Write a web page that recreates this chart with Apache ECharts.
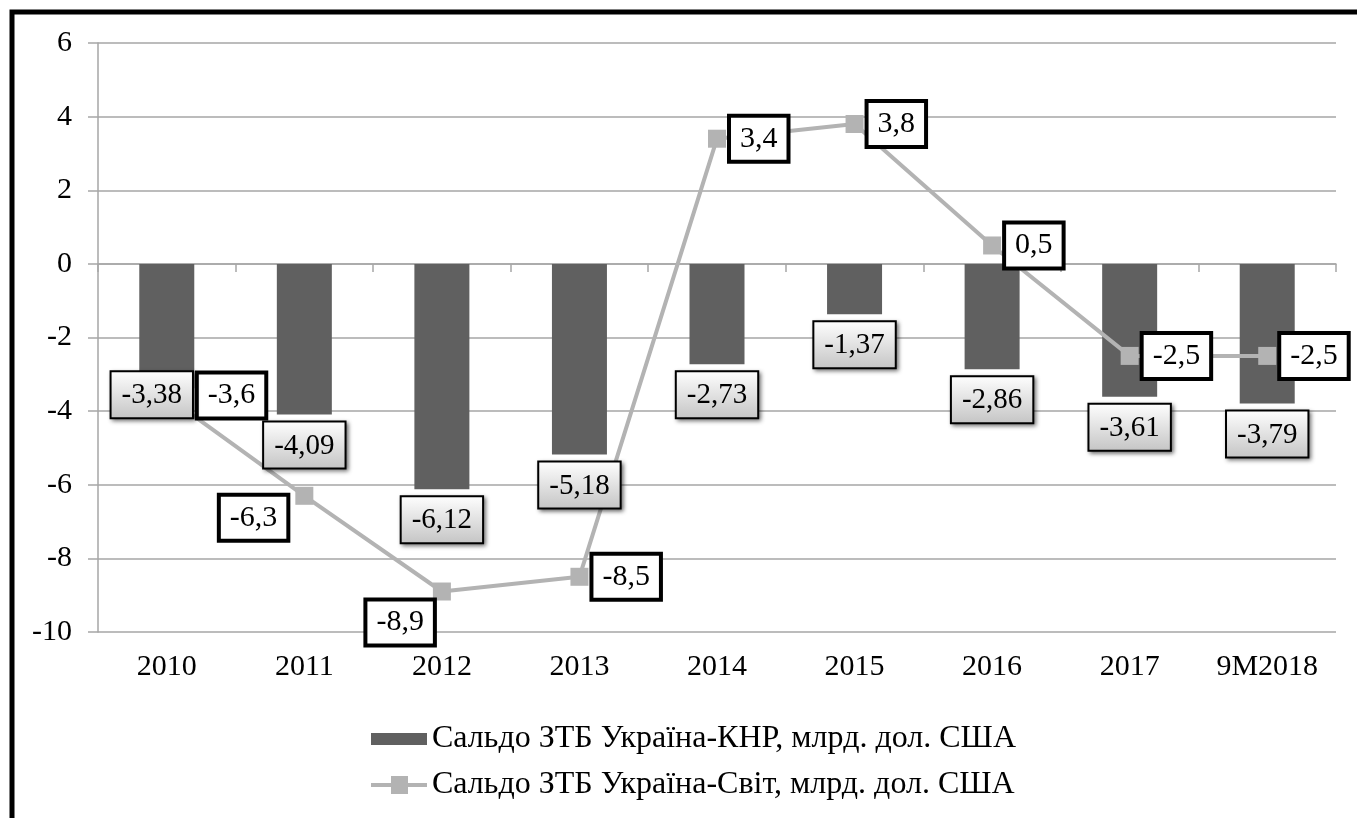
<!DOCTYPE html>
<html>
<head>
<meta charset="utf-8">
<script src="https://cdn.jsdelivr.net/npm/echarts@6/dist/echarts.min.js"></script>
<style>
  html, body { margin: 0; padding: 0; background: #fff; }
  #chart { width: 1357px; height: 818px; }
</style>
</head>
<body>
<div id="chart"></div>
<script>
const categories = ['2010', '2011', '2012', '2013', '2014', '2015', '2016', '2017', '9M2018'];
const chinaBalance = [-3.38, -4.09, -6.12, -5.18, -2.73, -1.37, -2.86, -3.61, -3.79];
const worldBalance = [-3.6, -6.3, -8.9, -8.5, 3.4, 3.8, 0.5, -2.5, -2.5];
const seriesNames = ['Сальдо ЗТБ Україна-КНР, млрд. дол. США', 'Сальдо ЗТБ Україна-Світ, млрд. дол. США'];
const yTicks = { min: -10, max: 6, interval: 2 };

const FONT = '"Liberation Serif", "Times New Roman", serif';
const fmt = v => String(v).replace('.', ',');

// label placement tweaks (layout only)
const barLabelTweaks = { 0: { position: 'bottom', offset: [-15, -24] } };
const lineLabelTweaks = {
  0: { position: 'right', offset: [18, -1] },
  1: { position: 'left', offset: [-4, 22] },
  2: { position: 'left', offset: [5, 31] }
};

const barLabelStyle = {
  show: true,
  position: 'bottom',
  distance: 8,
  formatter: p => fmt(p.value),
  fontFamily: FONT,
  fontSize: 29,
  color: '#000',
  backgroundColor: {
    type: 'linear', x: 0, y: 0, x2: 0, y2: 1,
    colorStops: [{ offset: 0, color: '#ffffff' }, { offset: 1, color: '#c4c4c4' }]
  },
  borderColor: '#000',
  borderWidth: 2,
  padding: [9, 10, 7, 10],
  shadowColor: 'rgba(0,0,0,0.45)',
  shadowBlur: 4,
  shadowOffsetX: 2,
  shadowOffsetY: 2
};

const lineLabelStyle = {
  show: true,
  position: 'right',
  distance: 5,
  formatter: p => fmt(p.value),
  fontFamily: FONT,
  fontSize: 30,
  color: '#000',
  backgroundColor: '#fff',
  borderColor: '#000',
  borderWidth: 4,
  padding: [7, 9, 5, 9]
};

const overlayData = chinaBalance.map((v, i) => barLabelTweaks[i]
  ? { value: v, label: Object.assign({}, barLabelTweaks[i]) } : v);
const lineData = worldBalance.map((v, i) => lineLabelTweaks[i]
  ? { value: v, label: Object.assign({}, lineLabelTweaks[i]) } : v);

const chart = echarts.init(document.getElementById('chart'), null, { renderer: 'canvas' });
chart.setOption({
  animation: false,
  backgroundColor: '#fff',
  graphic: [{
    type: 'rect',
    shape: { x: 12, y: 12, width: 1500, height: 1000 },
    style: { fill: 'none', stroke: '#000', lineWidth: 5 },
    z: 100, silent: true
  }],
  grid: { left: 98, right: 21, top: 43, bottom: 186 },
  legend: {
    data: [
      { name: seriesNames[0], icon: 'path://M0,0 H56 V12 H0 Z', itemStyle: { color: '#606060' } },
      { name: seriesNames[1], icon: 'path://M0,7 H20 V0 H37 V7 H56 V11 H37 V18 H20 V11 H0 Z', itemStyle: { color: '#b3b3b3' } }
    ],
    orient: 'vertical',
    left: 366,
    top: 718,
    itemGap: 14,
    itemWidth: 56,
    itemHeight: 18,
    symbolKeepAspect: true,
    textStyle: { fontFamily: FONT, fontSize: 32, color: '#000' }
  },
  xAxis: [{
    type: 'category',
    data: categories,
    position: 'bottom',
    axisLine: { show: false, onZero: false },
    axisTick: { show: false },
    axisLabel: { fontFamily: FONT, fontSize: 30, color: '#000', margin: 20 }
  }, {
    type: 'category',
    data: categories,
    position: 'bottom',
    axisLine: { show: true, onZero: true, lineStyle: { color: '#a6a6a6', width: 1.5 } },
    axisTick: { show: true, length: 8, lineStyle: { color: '#a6a6a6', width: 1.5 } },
    axisLabel: { show: false }
  }],
  yAxis: {
    type: 'value',
    min: yTicks.min, max: yTicks.max, interval: yTicks.interval,
    axisLine: { show: true, lineStyle: { color: '#a6a6a6', width: 1.5 } },
    axisTick: { show: true, length: 10, lineStyle: { color: '#a6a6a6', width: 1.5 } },
    splitLine: { show: true, lineStyle: { color: '#a6a6a6', width: 1.5 } },
    axisLabel: { fontFamily: FONT, fontSize: 30, color: '#000', margin: 26 }
  },
  series: [{
    name: seriesNames[0],
    type: 'bar',
    data: chinaBalance,
    barWidth: 55,
    barGap: '-100%',
    itemStyle: { color: '#606060' },
    z: 2
  }, {
    name: seriesNames[1],
    type: 'line',
    data: lineData,
    symbol: 'rect',
    symbolSize: 18,
    lineStyle: { color: '#b3b3b3', width: 4 },
    itemStyle: { color: '#b3b3b3' },
    label: lineLabelStyle,
    z: 3
  }, {
    name: 'labels',
    type: 'bar',
    data: overlayData,
    barWidth: 55,
    barGap: '-100%',
    itemStyle: { color: 'rgba(0,0,0,0)' },
    label: barLabelStyle,
    silent: true,
    z: 5
  }]
});
</script>
</body>
</html>
